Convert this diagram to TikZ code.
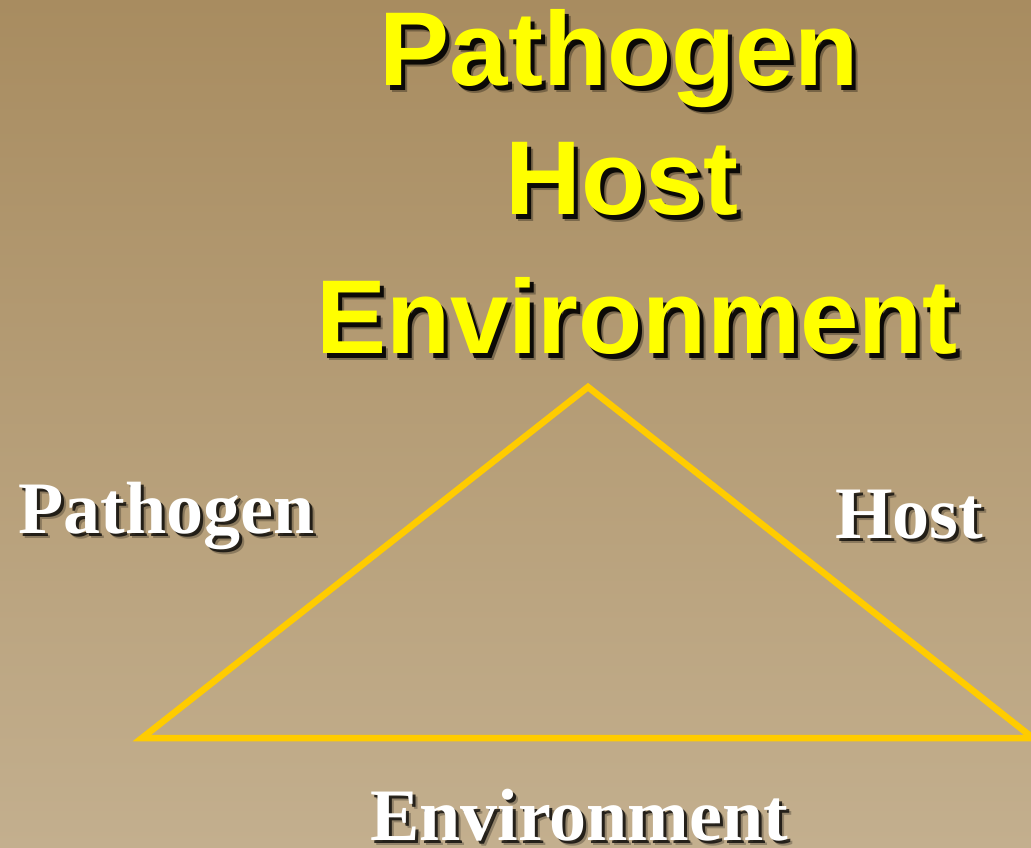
\documentclass[tikz,border=0pt]{standalone}
\usepackage{fontspec}
\setmainfont{Liberation Serif}
\newfontfamily\titlefont{Liberation Sans}
\definecolor{bgtop}{RGB}{168,140,96}
\definecolor{bgbot}{RGB}{195,175,142}
\definecolor{titleyellow}{RGB}{255,255,0}
\definecolor{triyellow}{RGB}{255,204,0}
\begin{document}
\begin{tikzpicture}[x=1pt,y=-1pt,
  titletext/.style={font=\titlefont\bfseries\fontsize{105}{105}\selectfont, inner sep=0pt, anchor=base},
  labeltext/.style={font=\bfseries\fontsize{74}{74}\selectfont, inner sep=0pt, anchor=base west},
  tshadow/.style={text=black, opacity=0.9},
  tshadowsoft/.style={text=black, opacity=0.3},
  lshadow/.style={text=black, opacity=0.75},
  lshadowsoft/.style={text=black, opacity=0.25},
  tri/.style={draw=triyellow, line width=6.5pt, line join=miter}]
\useasboundingbox (0,0) rectangle (1031,847);
\fill[top color=bgtop, bottom color=bgbot] (0,0) rectangle (1031,847);
% title block
\node[titletext, tshadowsoft] (t1ss) at (625,92) {Pathogen};
\node[titletext, tshadow] (t1s) at (623,90) {Pathogen};
\node[titletext, text=titleyellow] (t1) at (619,85) {Pathogen};
\node[titletext, tshadowsoft] (t2ss) at (628,221) {Host};
\node[titletext, tshadow] (t2s) at (626,219) {Host};
\node[titletext, text=titleyellow] (t2) at (622,214) {Host};
\node[titletext, tshadowsoft] (t3ss) at (643,360) {Environment};
\node[titletext, tshadow] (t3s) at (641,358) {Environment};
\node[titletext, text=titleyellow] (t3) at (637,353) {Environment};
% triangle
\coordinate (apex) at (588,387);
\coordinate (lv) at (142,738);
\coordinate (rv) at (1033,738);
\draw[tri] (apex) -- (lv) -- (rv) -- cycle;
% labels
\node[labeltext, lshadowsoft] (pss) at (23,538) {Pathogen};
\node[labeltext, lshadow] (ps) at (21,536) {Pathogen};
\node[labeltext, text=white] (p) at (18,533) {Pathogen};
\node[labeltext, lshadowsoft] (hss) at (840,543) {Host};
\node[labeltext, lshadow] (hs) at (838,541) {Host};
\node[labeltext, text=white] (h) at (835,538) {Host};
\node[labeltext, lshadowsoft] (ess) at (375,845) {Environment};
\node[labeltext, lshadow] (es) at (373,843) {Environment};
\node[labeltext, text=white] (e) at (370,840) {Environment};
\end{tikzpicture}
\end{document}
